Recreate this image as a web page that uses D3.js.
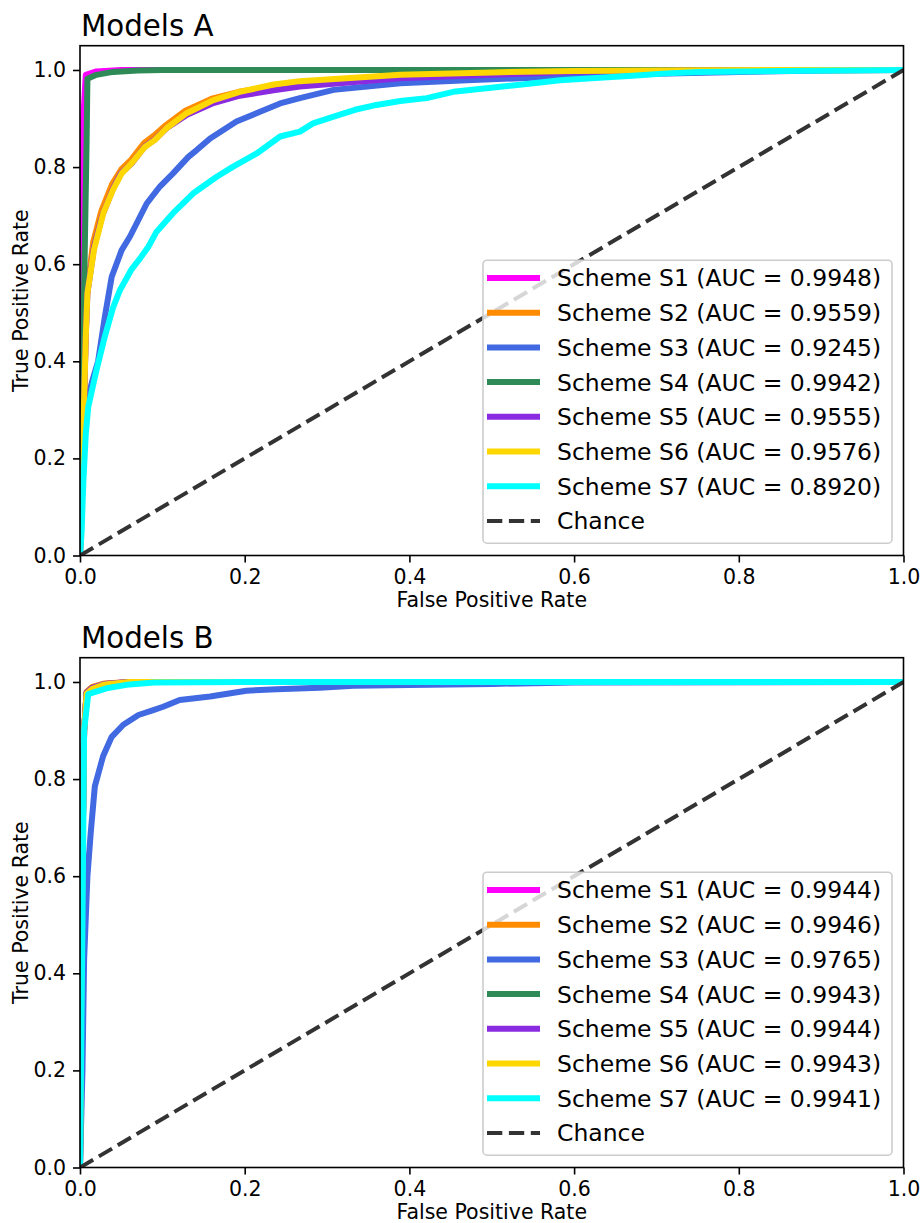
<!DOCTYPE html>
<html><head><meta charset="utf-8">
<script src="https://cdn.jsdelivr.net/npm/d3@7"></script>
<style>body{margin:0;background:#fff;} svg{display:block;font-family:"DejaVu Sans",sans-serif;}</style>
</head><body><svg id="c" width="921" height="1223"></svg>
<script>
const panelTitles = ["Models A", "Models B"];
const schemeNames = ["Scheme S1","Scheme S2","Scheme S3","Scheme S4","Scheme S5","Scheme S6","Scheme S7"];
const schemeColors = ["#ff00ff","#ff8c00","#4169e1","#2e8b57","#8a2be2","#ffd700","#00ffff"];
const aucA = ["0.9948","0.9559","0.9245","0.9942","0.9555","0.9576","0.8920"];
const aucB = ["0.9944","0.9946","0.9765","0.9943","0.9944","0.9943","0.9941"];
const tickValues = [0,0.2,0.4,0.6,0.8,1.0];
const tickLabels = ["0.0","0.2","0.4","0.6","0.8","1.0"];

// Models A curves: [FPR, TPR]
const A_S1 = [[0,0],[0.001,0.5],[0.002,0.7],[0.004,0.9],[0.007,0.99],[0.02,0.997],[0.05,1],[1,1]];
const A_S2 = [[0,0],[0.002,0.21],[0.005,0.33],[0.007,0.46],[0.009,0.55],[0.016,0.645],[0.026,0.71],[0.039,0.765],[0.05,0.795],[0.062,0.815],[0.078,0.85],[0.09,0.865],[0.104,0.886],[0.128,0.916],[0.16,0.941],[0.193,0.955],[0.235,0.967],[0.283,0.973],[0.364,0.983],[0.45,0.99],[0.55,0.995],[0.7,0.998],[0.85,0.999],[1,1]];
const A_S3 = [[0,0],[0.002,0.1],[0.004,0.2],[0.008,0.314],[0.015,0.36],[0.022,0.40],[0.03,0.49],[0.0385,0.574],[0.0506,0.629],[0.0607,0.657],[0.081,0.725],[0.097,0.76],[0.113,0.787],[0.1316,0.821],[0.1417,0.835],[0.158,0.859],[0.19,0.894],[0.2186,0.914],[0.243,0.931],[0.267,0.942],[0.308,0.959],[0.389,0.9726],[0.47,0.979],[0.55,0.984],[0.631,0.988],[0.7,0.992],[0.8,0.996],[0.9,0.999],[1,1]];
const A_S4 = [[0,0],[0.002,0.2],[0.004,0.45],[0.006,0.65],[0.008,0.85],[0.009,0.982],[0.02,0.99],[0.04,0.996],[0.07,0.999],[0.1,1],[1,1]];
const A_S5 = [[0,0],[0.002,0.2],[0.005,0.32],[0.007,0.45],[0.009,0.54],[0.017,0.635],[0.027,0.7],[0.04,0.755],[0.05,0.788],[0.063,0.808],[0.079,0.843],[0.091,0.857],[0.105,0.88],[0.13,0.908],[0.162,0.932],[0.194,0.947],[0.235,0.958],[0.267,0.966],[0.389,0.983],[0.5,0.99],[0.6,0.9965],[0.75,0.999],[0.9,1],[1,1]];
const A_S6 = [[0,0],[0.002,0.2],[0.005,0.32],[0.007,0.45],[0.009,0.54],[0.017,0.63],[0.0283,0.705],[0.04,0.753],[0.0506,0.787],[0.0628,0.808],[0.079,0.842],[0.091,0.856],[0.105,0.88],[0.1296,0.911],[0.162,0.938],[0.194,0.955],[0.235,0.97],[0.267,0.977],[0.389,0.99],[0.5,0.995],[0.6,0.998],[0.75,0.9995],[0.9,1],[1,1]];
const A_S7 = [[0,0],[0.002,0.05],[0.004,0.15],[0.007,0.25],[0.01,0.306],[0.02,0.382],[0.03,0.45],[0.04,0.51],[0.0486,0.547],[0.0628,0.59],[0.073,0.612],[0.083,0.636],[0.093,0.667],[0.113,0.705],[0.1376,0.746],[0.166,0.78],[0.186,0.801],[0.2146,0.828],[0.243,0.863],[0.267,0.873],[0.283,0.89],[0.308,0.904],[0.334,0.918],[0.36,0.928],[0.389,0.936],[0.421,0.942],[0.4534,0.955],[0.502,0.964],[0.5506,0.9726],[0.583,0.979],[0.631,0.984],[0.671,0.988],[0.712,0.993],[0.753,0.996],[0.85,0.998],[1,1]];

// Models B curves: [FPR, TPR]
const B_S1 = [[0,0],[0.002,0.5],[0.005,0.9],[0.008,0.978],[0.015,0.988],[0.03,0.996],[0.06,1],[1,1]];
const B_S2 = [[0,0],[0.002,0.5],[0.005,0.9],[0.008,0.98],[0.015,0.99],[0.03,0.997],[0.06,1],[1,1]];
const B_S3 = [[0,0],[0.003,0.2],[0.005,0.428],[0.009,0.6],[0.013,0.689],[0.018,0.785],[0.028,0.847],[0.0385,0.887],[0.0526,0.912],[0.071,0.932],[0.089,0.942],[0.101,0.949],[0.121,0.963],[0.158,0.97],[0.202,0.982],[0.239,0.985],[0.291,0.988],[0.332,0.992],[0.4,0.994],[0.5,0.996],[0.6,0.999],[1,1]];
const B_S4 = [[0,0],[0.002,0.5],[0.005,0.9],[0.008,0.977],[0.015,0.987],[0.03,0.995],[0.06,1],[1,1]];
const B_S5 = [[0,0],[0.002,0.5],[0.005,0.9],[0.008,0.978],[0.015,0.988],[0.03,0.996],[0.06,1],[1,1]];
const B_S6 = [[0,0],[0.002,0.5],[0.005,0.9],[0.008,0.976],[0.015,0.986],[0.03,0.995],[0.06,1],[1,1]];
const B_S7 = [[0,0],[0.003,0.5],[0.005,0.9],[0.01,0.975],[0.032,0.987],[0.06,0.995],[0.09,0.999],[0.2,1],[1,1]];
const chanceLine = [[0,0],[1,1]];

const panels = [
  {title: panelTitles[0], curves: [A_S1,A_S2,A_S3,A_S4,A_S5,A_S6,A_S7], auc: aucA, top: 45.7},
  {title: panelTitles[1], curves: [B_S1,B_S2,B_S3,B_S4,B_S5,B_S6,B_S7], auc: aucB, top: 657.7}
];

const svg = d3.select("#c");
const L = 80, R = 903.5, H = 509.8;

panels.forEach((p, pi) => {
  const T = p.top, B = T + H;
  const x = d3.scaleLinear().domain([0,1]).range([L,R]);
  const y = d3.scaleLinear().domain([0,1.05]).range([B,T]);
  const g = svg.append("g");
  const clipId = "clip" + pi;
  g.append("clipPath").attr("id", clipId).append("rect")
    .attr("x", L).attr("y", T).attr("width", R-L).attr("height", H);

  const line = d3.line().x(d => x(d[0])).y(d => y(d[1]));
  const plot = g.append("g").attr("clip-path", `url(#${clipId})`);
  p.curves.forEach((c, i) => {
    plot.append("path").datum(c).attr("d", line)
      .attr("fill","none").attr("stroke", schemeColors[i])
      .attr("stroke-width", 6).attr("stroke-linejoin","round").attr("stroke-linecap","square");
  });
  plot.append("path").datum(chanceLine).attr("d", line)
    .attr("fill","none").attr("stroke","#333333").attr("stroke-width",4)
    .attr("stroke-dasharray","15.3,6.6");

  // axes
  const xAxis = d3.axisBottom(x).tickValues(tickValues).tickFormat((d,i)=>tickLabels[i]).tickSize(7).tickPadding(7);
  const yAxis = d3.axisLeft(y).tickValues(tickValues).tickFormat((d,i)=>tickLabels[i]).tickSize(7).tickPadding(7);
  const gx = g.append("g").attr("transform",`translate(0,${B})`).call(xAxis);
  const gy = g.append("g").attr("transform",`translate(${L},0)`).call(yAxis);
  [gx, gy].forEach(a => {
    a.select(".domain").remove();
    a.selectAll(".tick line").attr("stroke","#000").attr("stroke-width",1.6);
    a.selectAll(".tick text").attr("fill","#000").attr("font-size","20.5px").attr("font-family","DejaVu Sans");
  });
  g.append("rect").attr("x",L).attr("y",T).attr("width",R-L).attr("height",H)
    .attr("fill","none").attr("stroke","#000").attr("stroke-width",1.6);

  // labels
  g.append("text").attr("x",(L+R)/2).attr("y",B+51).attr("text-anchor","middle")
    .attr("font-size","20.5px").text("False Positive Rate");
  g.append("text").attr("transform",`translate(28,${(T+B)/2}) rotate(-90)`).attr("text-anchor","middle")
    .attr("font-size","20.5px").text("True Positive Rate");
  g.append("text").attr("x",81).attr("y",T-9.7).attr("font-size","29.3px").text(p.title);

  // legend
  const lg = g.append("g");
  const ly0 = T + 214.3;
  lg.append("rect").attr("x",483).attr("y",T+214.5).attr("width",409).attr("height",283)
    .attr("rx",4).attr("fill","#fff").attr("fill-opacity",0.8).attr("stroke","#cccccc").attr("stroke-width",1.6);
  const rowH = 34.7;
  schemeNames.forEach((n,i) => {
    const cy = ly0 + 18 + i*rowH;
    lg.append("line").attr("x1",487).attr("x2",540).attr("y1",cy).attr("y2",cy)
      .attr("stroke",schemeColors[i]).attr("stroke-width",6);
    lg.append("text").attr("x",557).attr("y",cy+8.4).attr("font-size","23.5px")
      .text(`${n} (AUC = ${p.auc[i]})`);
  });
  const cyC = ly0 + 18 + 7*rowH;
  lg.append("line").attr("x1",487).attr("x2",540).attr("y1",cyC).attr("y2",cyC)
    .attr("stroke","#333333").attr("stroke-width",4).attr("stroke-dasharray","15.3,6.6");
  lg.append("text").attr("x",557).attr("y",cyC+8.4).attr("font-size","23.5px").text("Chance");
});
</script></body></html>
